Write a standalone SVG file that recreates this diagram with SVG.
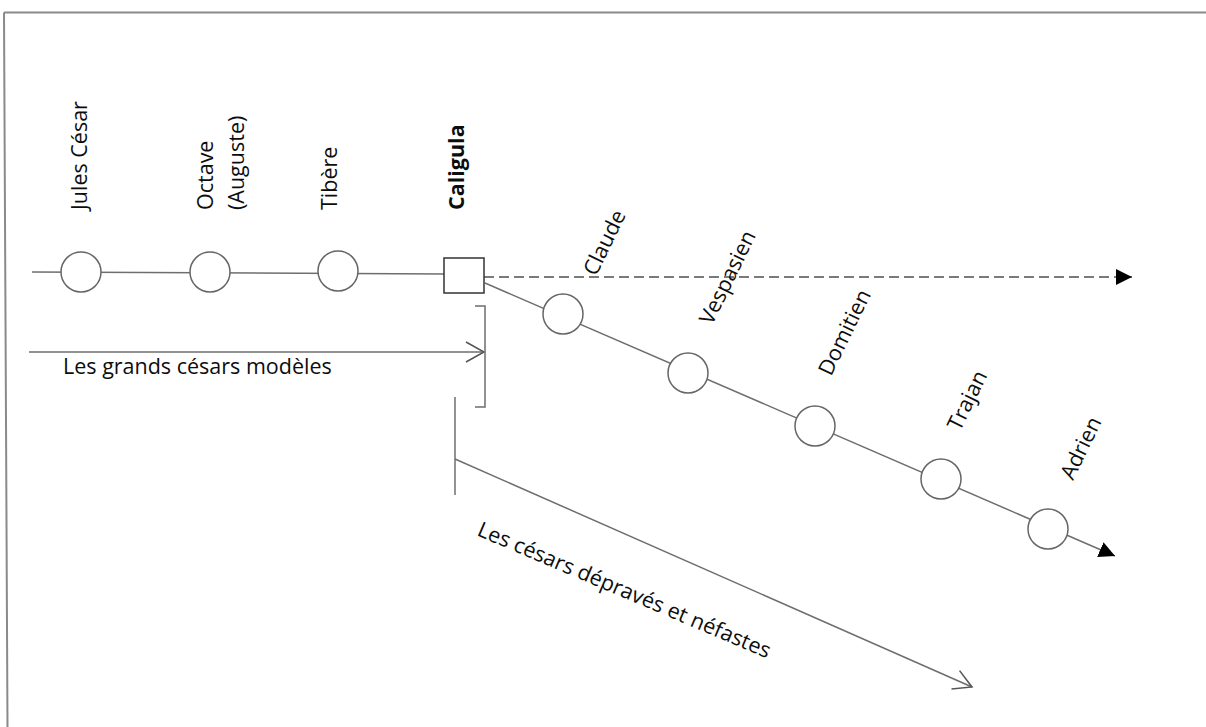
<svg xmlns="http://www.w3.org/2000/svg" width="1206" height="727" viewBox="0 0 1206 727">
<style>
.frame{stroke:#8a8a8a;stroke-width:2;fill:none}
.ln{stroke:#6e6e6e;stroke-width:1.5;fill:none}
.dash{stroke:#7a7a7a;stroke-width:1.8;fill:none;stroke-dasharray:10 5}
.node{fill:#fff;stroke:#666;stroke-width:1.5}
.box{fill:#fff;stroke:#333;stroke-width:1.5}
.t{font-family:"Open Sans","Liberation Sans",sans-serif;font-size:21.5px;fill:#0d0d0d}
.b{font-weight:bold}
</style>
<defs>
<marker id="fill" markerUnits="userSpaceOnUse" markerWidth="16" markerHeight="16" refX="16" refY="8" orient="auto" viewBox="0 0 16 16">
<path d="M0,0 L16,8 L0,16 z" fill="#000"/>
</marker>
<marker id="open" markerUnits="userSpaceOnUse" markerWidth="22" markerHeight="24" refX="19" refY="11" orient="auto" viewBox="0 0 22 24">
<path d="M1,1 L19,11 L1,21" fill="none" stroke="#555" stroke-width="1.5"/>
</marker>
</defs>
<rect width="1206" height="727" fill="#fff"/>
<path class="frame" d="M4,12.5 H1206 M4,12.5 L7.5,727"/>
<g id="connectors">
<line class="ln" x1="32" y1="272" x2="444" y2="274"/>
<line class="dash" x1="484" y1="277" x2="1132" y2="277" marker-end="url(#fill)"/>
<line class="ln" x1="485" y1="283" x2="1115" y2="556" marker-end="url(#fill)"/>
<line class="ln" x1="29" y1="352" x2="484" y2="352" marker-end="url(#open)"/>
<path class="ln" d="M475,306 H485 V407 H475"/>
<line class="ln" x1="455" y1="397" x2="455" y2="495"/>
<line class="ln" x1="455" y1="459" x2="972" y2="687" marker-end="url(#open)"/>
</g>
<g id="jules"><circle class="node" cx="81" cy="272" r="20"/><text class="t" transform="translate(87,210) rotate(-90)">Jules César</text></g>
<g id="octave"><circle class="node" cx="210" cy="272" r="20"/><text class="t" transform="translate(212.5,210) rotate(-90)">Octave</text><text class="t" transform="translate(244,210) rotate(-90)">(Auguste)</text></g>
<g id="tibere"><circle class="node" cx="338" cy="271" r="20"/><text class="t" transform="translate(337,210) rotate(-90)">Tibère</text></g>
<g id="caligula"><rect class="box" x="444" y="258" width="40" height="35"/><text class="t b" transform="translate(464,210) rotate(-90)">Caligula</text></g>
<g id="claude"><circle class="node" cx="563" cy="314" r="20"/><text class="t" transform="translate(596,277) rotate(-64)">Claude</text></g>
<g id="vespasien"><circle class="node" cx="688" cy="373" r="20"/><text class="t" transform="translate(712,326) rotate(-64)">Vespasien</text></g>
<g id="domitien"><circle class="node" cx="815" cy="426" r="20"/><text class="t" transform="translate(831,377) rotate(-64)">Domitien</text></g>
<g id="trajan"><circle class="node" cx="941" cy="479" r="20"/><text class="t" transform="translate(960,432) rotate(-64)">Trajan</text></g>
<g id="adrien"><circle class="node" cx="1048" cy="529" r="20"/><text class="t" transform="translate(1073,481) rotate(-64)">Adrien</text></g>
<g id="label-grands"><text class="t" x="63" y="374">Les grands césars modèles</text></g>
<g id="label-depraves"><text class="t" transform="translate(476,535) rotate(23)">Les césars dépravés et néfastes</text></g>
</svg>
